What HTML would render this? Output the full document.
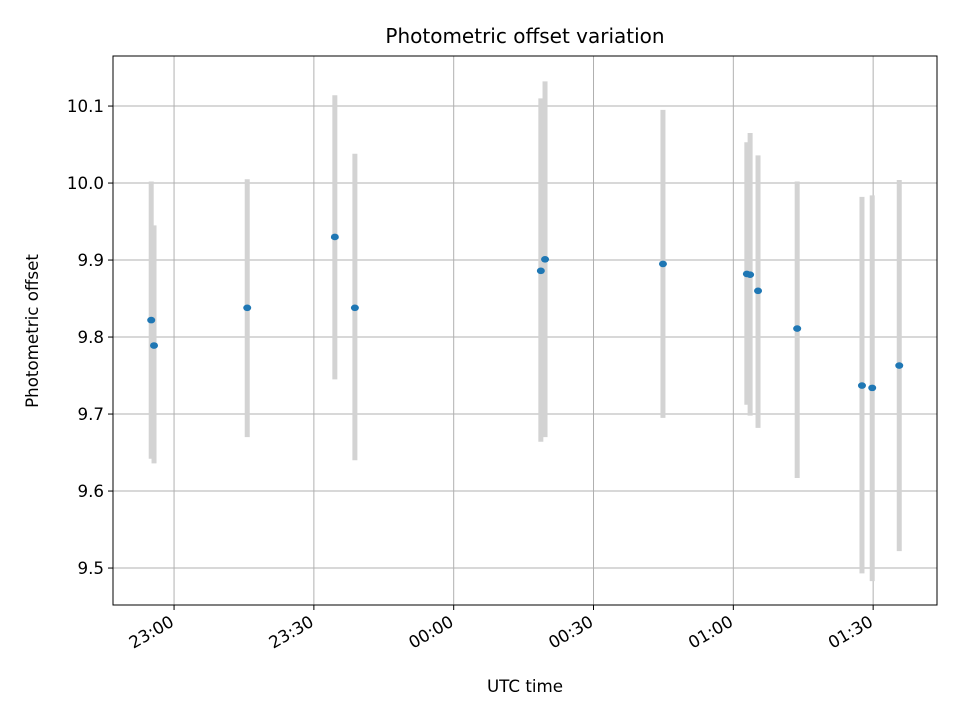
<!DOCTYPE html>
<html><head><meta charset="utf-8"><style>
body{margin:0;background:#fff;}
svg text{font-family:"DejaVu Sans","Liberation Sans",sans-serif;fill:#000;}
</style></head><body>
<svg id="chart" width="960" height="720" xmlns="http://www.w3.org/2000/svg">
<rect width="960" height="720" fill="#fff"/>
<g id="grid"></g><g id="bars"></g><g id="pts"></g><g id="axes"></g>
<text x="525" y="43" text-anchor="middle" font-size="16.7" font-weight="normal" style="font-size:20px">Photometric offset variation</text>
<text x="525" y="692" text-anchor="middle" style="font-size:16.7px">UTC time</text>
<text transform="translate(38,331) rotate(-90)" text-anchor="middle" style="font-size:16.7px">Photometric offset</text>
</svg>
<script>
// minutes since 23:00 UTC
const times = [-4.9,-4.3,15.7,34.5,38.8,78.7,79.6,104.9,122.9,123.6,125.3,133.7,147.6,149.8,155.6];
const offsets = [9.822,9.789,9.838,9.930,9.838,9.886,9.901,9.895,9.882,9.881,9.860,9.811,9.737,9.734,9.763];
const errLow = [9.642,9.636,9.670,9.745,9.640,9.664,9.670,9.695,9.712,9.698,9.682,9.617,9.493,9.483,9.522];
const errHigh = [10.002,9.945,10.005,10.114,10.038,10.110,10.132,10.095,10.053,10.065,10.036,10.002,9.982,9.984,10.004];
const xTickVals = [0,30,60,90,120,150];
const xTickLabels = ["23:00","23:30","00:00","00:30","01:00","01:30"];
const yTickVals = [9.5,9.6,9.7,9.8,9.9,10.0,10.1];
const yTickLabels = ["9.5","9.6","9.7","9.8","9.9","10.0","10.1"];

const L=113,R=937,T=56,B=605;
const xMin=-13.1,xMax=163.7,yMin=9.452,yMax=10.165;
const X=v=>L+(v-xMin)/(xMax-xMin)*(R-L);
const Y=v=>B-(v-yMin)/(yMax-yMin)*(B-T);
const NS="http://www.w3.org/2000/svg";
function mk(tag,parent,attrs){const e=document.createElementNS(NS,tag);for(const k in attrs)e.setAttribute(k,attrs[k]);document.getElementById(parent).appendChild(e);return e;}

xTickVals.forEach((v,i)=>{
  const g=mk('line','grid',{x1:X(v),x2:X(v),y1:T,y2:B,stroke:'#b0b0b0','stroke-width':1});
  
  
  const t=mk('line','axes',{x1:X(v),x2:X(v),y1:B,y2:B+5,stroke:'#000','stroke-width':1});
  
  
  const ax=X(v)+1, ay=B+20;
  const lb=mk('text','axes',{x:ax,y:ay,'text-anchor':'end',style:'font-size:16.7px',transform:`rotate(-30 ${ax} ${ay})`});
  lb.textContent=xTickLabels[i];
  
  
});
yTickVals.forEach((v,i)=>{
  const g=mk('line','grid',{x1:L,x2:R,y1:Y(v),y2:Y(v),stroke:'#b0b0b0','stroke-width':1});
  
  
  const t=mk('line','axes',{x1:L-5,x2:L,y1:Y(v),y2:Y(v),stroke:'#000','stroke-width':1});
  
  
  const lb=mk('text','axes',{x:L-9,y:Y(v)+6,'text-anchor':'end',style:'font-size:16.7px'});
  lb.textContent=yTickLabels[i];
  
  
});
times.forEach((tv,i)=>{
  const b=mk('line','bars',{x1:X(tv),x2:X(tv),y1:Y(errLow[i]),y2:Y(errHigh[i]),stroke:'#d3d3d3','stroke-width':5});
  
  
  const p=mk('ellipse','pts',{cx:X(tv),cy:Y(offsets[i]),rx:4,ry:3.3,fill:'#1f77b4'});
  
  
});
const f=mk('rect','axes',{x:L,y:T,width:R-L,height:B-T,fill:'none',stroke:'#000','stroke-width':1});


</script>
</body></html>
